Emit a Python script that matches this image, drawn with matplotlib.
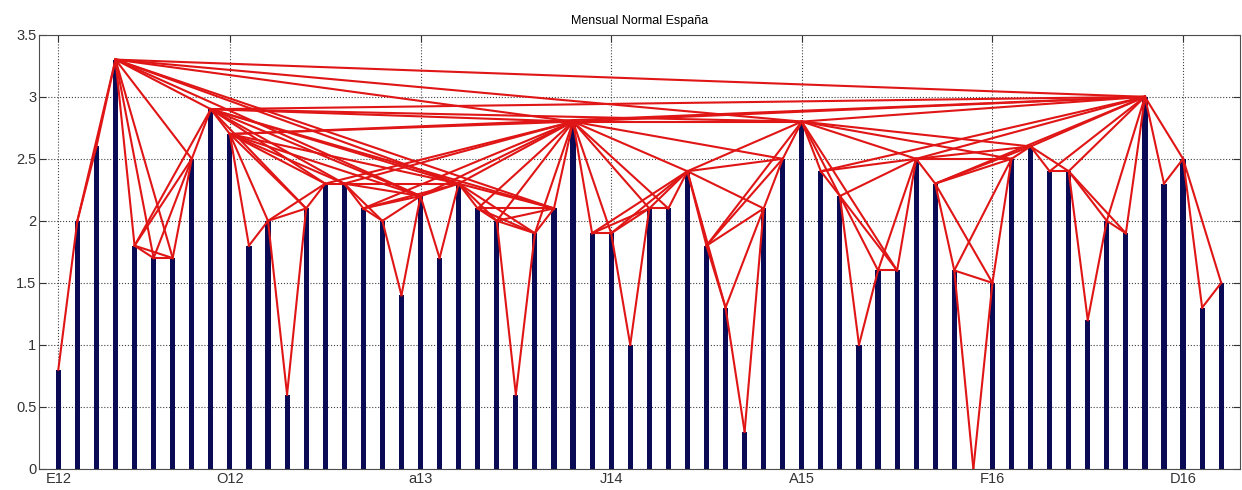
import numpy as np
import matplotlib
matplotlib.use('Agg')
import matplotlib.pyplot as plt

plt.rcParams['font.family'] = ['Liberation Sans', 'DejaVu Sans']

# monthly series, Jan 2012 .. Feb 2017
values = [0.8, 2.0, 2.6, 3.3, 1.8, 1.7, 1.7, 2.5, 2.9, 2.7,
          1.8, 2.0, 0.6, 2.1, 2.3, 2.3, 2.1, 2.0, 1.4, 2.2,
          1.7, 2.3, 2.1, 2.0, 0.6, 1.9, 2.1, 2.8, 1.9, 1.9,
          1.0, 2.1, 2.1, 2.4, 1.8, 1.3, 0.3, 2.1, 2.5, 2.8,
          2.4, 2.2, 1.0, 1.6, 1.6, 2.5, 2.3, 1.6, 0.0, 1.5,
          2.5, 2.6, 2.4, 2.4, 1.2, 2.0, 1.9, 3.0, 2.3, 2.5,
          1.3, 1.5]
tick_pos = [1, 10, 20, 30, 40, 50, 60]
tick_labels = ['E12', 'O12', 'a13', 'J14', 'A15', 'F16', 'D16']

y = np.array(values)
x = np.arange(1, len(y) + 1)


def visible(a, b):
    # natural visibility: every bar between a and b lies below the segment
    for c in range(a + 1, b):
        h = y[b] + (y[a] - y[b]) * (x[b] - x[c]) / (x[b] - x[a])
        if y[c] >= h:
            return False
    return True


edges = [(a, b) for a in range(len(y)) for b in range(a + 1, len(y)) if visible(a, b)]

fig = plt.figure(figsize=(12.42, 4.9), dpi=100)
ax = fig.add_axes([0.0316, 0.043, 0.967, 0.886])

ax.bar(x, y, width=0.27, color='#0b0b55', zorder=2)
for a, b in edges:
    ax.plot([x[a], x[b]], [y[a], y[b]], color='#e01515', lw=1.5, zorder=3)

ax.set_xlim(0, 63)
ax.set_ylim(0, 3.5)
ax.set_yticks(np.arange(0, 3.51, 0.5))
ax.set_yticklabels(['0', '0.5', '1', '1.5', '2', '2.5', '3', '3.5'])
ax.set_xticks(tick_pos)
ax.set_xticklabels(tick_labels)
ax.tick_params(direction='in', top=True, right=True, labelsize=10.5,
               length=5, pad=2, colors='0.2')
ax.grid(True, linestyle=':', color='0.25', linewidth=0.8, zorder=0)
ax.set_axisbelow(True)
for s in ax.spines.values():
    s.set_color('0.3')
ax.set_title('Mensual Normal España', fontsize=9, pad=8)

fig.savefig('out.png', dpi=100, facecolor='white')
